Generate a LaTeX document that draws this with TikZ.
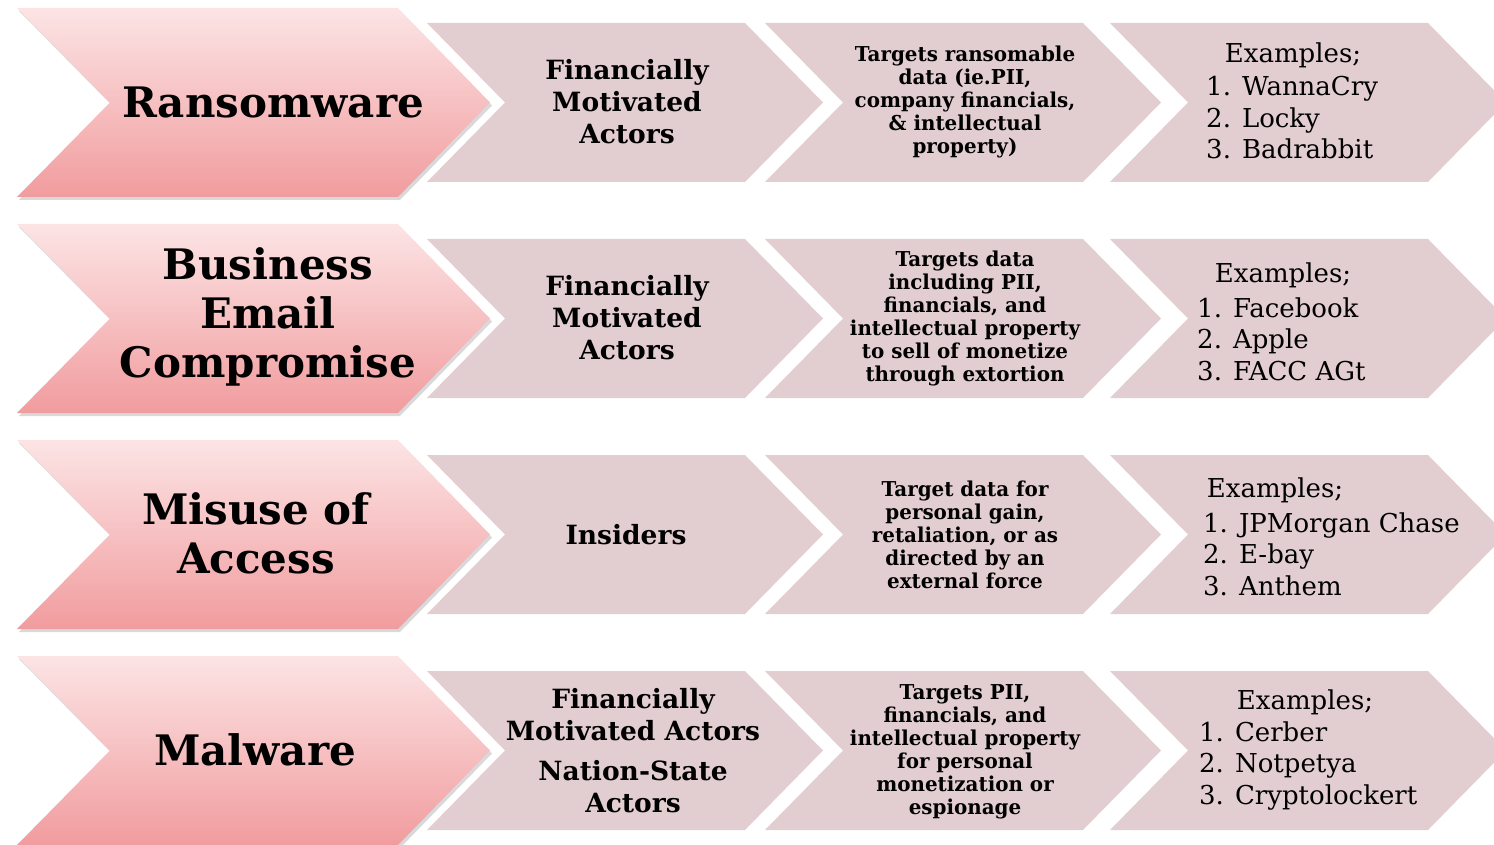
\documentclass[tikz,border=0pt]{standalone}
\usepackage{fontspec}
\setmainfont{DejaVu Serif}
\newfontfamily\narrowfont[FakeStretch=0.97]{DejaVu Serif}
\usetikzlibrary{shadows}

\definecolor{leadtop}{RGB}{252,228,229}
\definecolor{leadbot}{RGB}{241,156,158}
\definecolor{stepfill}{RGB}{226,206,208}

\begin{document}
\begin{tikzpicture}[x=1pt, y=-1pt,
  lead/.style={top color=leadtop, bottom color=leadbot, drop shadow={opacity=0.3, shadow xshift=2pt, shadow yshift=-3pt}},
  stepbox/.style={fill=stepfill},
  cat/.style={inner sep=0pt, align=center, font=\fontsize{42}{49}\selectfont\bfseries},
  actor/.style={inner sep=0pt, align=center, font=\fontsize{26.5}{32}\selectfont\bfseries},
  target/.style={inner sep=0pt, align=center, font=\narrowfont\fontsize{20.5}{23}\selectfont\bfseries},
  exhead/.style={inner sep=0pt, font=\fontsize{26}{31.5}\selectfont},
  exlist/.style={inner sep=0pt, anchor=west, align=left, font=\fontsize{26}{31.5}\selectfont}
]
\useasboundingbox (0,0) rectangle (1494,845);
\clip (0,0) rectangle (1494,845);

% chevrons, one row every 216pt
\foreach \c in {102.5, 318.5, 534.5, 750.5} {
  \path[lead] (17,\c-94.5) -- (398,\c-94.5) -- (490,\c) -- (398,\c+94.5) -- (17,\c+94.5) -- (110,\c) -- cycle;
  \foreach \l in {427, 765, 1110}
    \fill[stepbox] (\l,\c-79.5) -- (\l+318,\c-79.5) -- (\l+396,\c) -- (\l+318,\c+79.5) -- (\l,\c+79.5) -- (\l+78,\c) -- cycle;
}

% row 1
\node[cat] (ransom) at (273,102) {Ransomware};
\node[actor] (ransomActor) at (627,102) {Financially\\Motivated\\Actors};
\node[target] (ransomTarget) at (965,102) {Targets ransomable\\data (ie.PII,\\company financials,\\\& intellectual\\property)};
\node[exhead] (ransomHead) at (1293,55) {Examples;};
\node[exlist] (ransomList) at (1206,118) {1. WannaCry\\2. Locky\\3. Badrabbit};

% row 2
\node[cat] (bec) at (268,317) {Business\\Email\\Compromise};
\node[actor] (becActor) at (627,318) {Financially\\Motivated\\Actors};
\node[target] (becTarget) at (965,318.5) {Targets data\\including PII,\\financials, and\\intellectual property\\to sell of monetize\\through extortion};
\node[exhead] (becHead) at (1283,275) {Examples;};
\node[exlist] (becList) at (1197,339) {1. Facebook\\2. Apple\\3. FACC AGt};

% row 3
\node[cat] (misuse) at (256,533.5) {Misuse of\\Access};
\node[actor] (misuseActor) at (626,535) {Insiders};
\node[target] (misuseTarget) at (965,535) {Target data for\\personal gain,\\retaliation, or as\\directed by an\\external force};
\node[exhead] (misuseHead) at (1275,490) {Examples;};
\node[exlist] (misuseList) at (1203,554) {1. JPMorgan Chase\\2. E-bay\\3. Anthem};

% row 4
\node[cat] (malware) at (255,750) {Malware};
\node[actor] (malwareActor) at (633,750.5) {Financially\\Motivated Actors\\[8pt]Nation-State\\Actors};
\node[target] (malwareTarget) at (965,751.5) {Targets PII,\\financials, and\\intellectual property\\for personal\\monetization or\\espionage};
\node[exhead] (malwareHead) at (1305,702) {Examples;};
\node[exlist] (malwareList) at (1199,766) {1. Cerber\\2. Notpetya\\3. Cryptolockert};

\end{tikzpicture}
\end{document}
